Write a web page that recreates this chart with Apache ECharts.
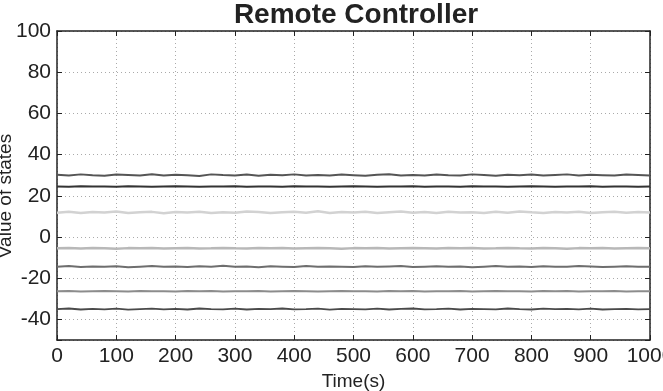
<!DOCTYPE html>
<html>
<head>
<meta charset="utf-8">
<script src="https://cdn.jsdelivr.net/npm/echarts@6/dist/echarts.min.js"></script>
<style>html,body{margin:0;padding:0;background:#fff;}#c{width:663px;height:391px;}</style>
</head>
<body>
<div id="c"></div>
<script>
var time = [0,20,40,60,80,100,120,140,160,180,200,220,240,260,280,300,320,340,360,380,400,420,440,460,480,500,520,540,560,580,600,620,640,660,680,700,720,740,760,780,800,820,840,860,880,900,920,940,960,980,1000];
var xTicks = [0,100,200,300,400,500,600,700,800,900,1000];
var yTicks = [-40,-20,0,20,40,60,80,100];

var state1 = [30.2,29.8,30.4,30.0,29.7,30.3,30.1,29.9,30.5,29.8,30.2,30.0,29.6,30.4,30.1,29.9,30.3,29.7,30.2,30.0,30.4,29.8,30.1,29.9,30.3,30.0,29.7,30.2,30.5,29.9,30.1,29.8,30.3,30.0,29.9,30.4,30.1,29.7,30.2,30.0,30.3,29.8,30.1,30.4,29.9,30.2,30.0,29.8,30.3,30.1,29.9];
var state2 = [24.5,24.4,24.6,24.5,24.5,24.4,24.6,24.5,24.4,24.5,24.6,24.5,24.4,24.5,24.5,24.6,24.4,24.5,24.5,24.4,24.6,24.5,24.5,24.4,24.5,24.6,24.5,24.4,24.5,24.5,24.6,24.4,24.5,24.5,24.4,24.6,24.5,24.5,24.4,24.5,24.6,24.5,24.4,24.5,24.5,24.6,24.4,24.5,24.5,24.4,24.5];
var state3 = [11.8,12.3,11.6,12.1,11.9,12.4,11.7,12.0,12.2,11.5,12.1,11.9,12.3,11.7,12.0,11.8,12.4,12.1,11.6,12.0,12.3,11.8,12.5,11.7,12.1,11.9,12.2,11.6,12.0,12.4,11.8,12.1,11.7,12.3,11.9,12.0,11.6,12.2,11.8,12.4,12.0,11.7,12.1,11.9,12.3,11.6,12.0,12.2,11.8,12.1,11.9];
var state4 = [-5.5,-5.3,-5.6,-5.4,-5.5,-5.7,-5.4,-5.5,-5.3,-5.6,-5.5,-5.4,-5.6,-5.5,-5.3,-5.5,-5.6,-5.4,-5.5,-5.3,-5.6,-5.5,-5.4,-5.5,-5.7,-5.4,-5.5,-5.3,-5.6,-5.5,-5.4,-5.5,-5.6,-5.3,-5.5,-5.4,-5.6,-5.5,-5.3,-5.5,-5.6,-5.4,-5.5,-5.7,-5.4,-5.5,-5.3,-5.6,-5.5,-5.4,-5.5];
var state5 = [-14.4,-14.1,-14.6,-14.3,-14.5,-14.2,-14.7,-14.4,-14.1,-14.5,-14.3,-14.6,-14.2,-14.4,-14.0,-14.5,-14.3,-14.7,-14.2,-14.4,-14.6,-14.1,-14.5,-14.3,-14.4,-14.6,-14.2,-14.5,-14.3,-14.1,-14.6,-14.4,-14.2,-14.5,-14.3,-14.7,-14.4,-14.1,-14.5,-14.3,-14.6,-14.2,-14.4,-14.5,-14.1,-14.3,-14.6,-14.4,-14.2,-14.5,-14.4];
var state6 = [-26.3,-26.2,-26.4,-26.3,-26.2,-26.3,-26.4,-26.2,-26.3,-26.3,-26.4,-26.2,-26.3,-26.2,-26.4,-26.3,-26.3,-26.2,-26.4,-26.3,-26.2,-26.3,-26.4,-26.3,-26.2,-26.3,-26.3,-26.4,-26.2,-26.3,-26.2,-26.4,-26.3,-26.3,-26.2,-26.4,-26.3,-26.2,-26.3,-26.3,-26.4,-26.2,-26.3,-26.2,-26.4,-26.3,-26.3,-26.2,-26.4,-26.3,-26.3];
var state7 = [-35.0,-34.7,-35.2,-34.9,-35.1,-34.8,-35.3,-35.0,-34.8,-35.1,-34.9,-35.2,-34.7,-35.0,-35.1,-34.8,-35.2,-34.9,-35.0,-34.7,-35.1,-35.0,-34.8,-35.3,-34.9,-35.0,-35.1,-34.8,-35.2,-34.9,-34.7,-35.1,-35.0,-34.8,-35.2,-34.9,-35.0,-35.1,-34.7,-35.0,-35.2,-34.8,-35.0,-34.9,-35.1,-34.8,-35.2,-35.0,-34.9,-35.1,-35.0];

var FONT = 'Liberation Sans, Arial, Helvetica, sans-serif';
function pairs(arr){ return time.map(function(t,i){ return [t, arr[i]]; }); }
var lineDefs = [
  {d: state1, c: '#555555', w: 2},
  {d: state2, c: '#333333', w: 2},
  {d: state3, c: '#d2d2d2', w: 2.5},
  {d: state4, c: '#b8b8b8', w: 2.5},
  {d: state5, c: '#6e6e6e', w: 2},
  {d: state6, c: '#8c8c8c', w: 2},
  {d: state7, c: '#4a4a4a', w: 1.8}
];
var series = lineDefs.map(function(s){
  return {type:'line', data: pairs(s.d), showSymbol:false, symbol:'none', animation:false,
    lineStyle:{color:s.c, width:s.w}, silent:true, z:3};
});

var axisLineStyle = {color:'#222', width:1.5};
var gridStyle = {color:'#aaa', type:[1,3], width:1};
var chart = echarts.init(document.getElementById('c'), null, {renderer:'canvas'});
chart.setOption({
  animation:false,
  backgroundColor:'#fff',
  title:{text:'Remote Controller', left:351, textAlign:'center', top:-4,
    textStyle:{fontFamily:FONT, fontSize:28, fontWeight:'bold', color:'#222'}},
  grid:{left:57, right:13, top:31, bottom:51, containLabel:false, outerBoundsMode:'none'},
  graphic:[{type:'text', x:6, y:196, rotation:Math.PI/2,
    style:{text:'Value of states', font:'19px ' + FONT, fill:'#222', textAlign:'center', textVerticalAlign:'middle'}}],
  xAxis:[{
    type:'value', min:xTicks[0], max:xTicks[xTicks.length-1], interval:100, position:'bottom',
    name:'Time(s)', nameLocation:'middle', nameGap:28,
    nameTextStyle:{fontFamily:FONT, fontSize:19, color:'#222'},
    axisLine:{show:true, onZero:false, lineStyle:axisLineStyle},
    axisTick:{show:true, inside:true, length:5, lineStyle:{color:'#222'}},
    axisLabel:{fontFamily:FONT, fontSize:21, color:'#222', margin:6,
      formatter:function(v){ return String(v); }},
    splitLine:{show:true, lineStyle:gridStyle}
  },{
    type:'value', min:xTicks[0], max:xTicks[xTicks.length-1], interval:100, position:'top',
    axisLine:{show:true, onZero:false, lineStyle:axisLineStyle},
    axisTick:{show:true, inside:true, length:5, lineStyle:{color:'#222'}},
    axisLabel:{show:false}, splitLine:{show:false}
  }],
  yAxis:[{
    type:'value', min:-50, max:yTicks[yTicks.length-1], splitNumber:7, position:'left',
    axisLine:{show:true, onZero:false, lineStyle:axisLineStyle},
    axisTick:{show:true, inside:true, length:5, lineStyle:{color:'#222'}},
    axisLabel:{fontFamily:FONT, fontSize:21, color:'#222', margin:6,
      formatter:function(v){ return yTicks.indexOf(v) >= 0 ? String(v) : ''; }},
    splitLine:{show:true, lineStyle:gridStyle}
  },{
    type:'value', min:-50, max:yTicks[yTicks.length-1], splitNumber:7, position:'right',
    axisLine:{show:true, onZero:false, lineStyle:axisLineStyle},
    axisTick:{show:true, inside:true, length:5, lineStyle:{color:'#222'}},
    axisLabel:{show:false}, splitLine:{show:false}
  }],
  series: series
});
</script>
</body>
</html>
